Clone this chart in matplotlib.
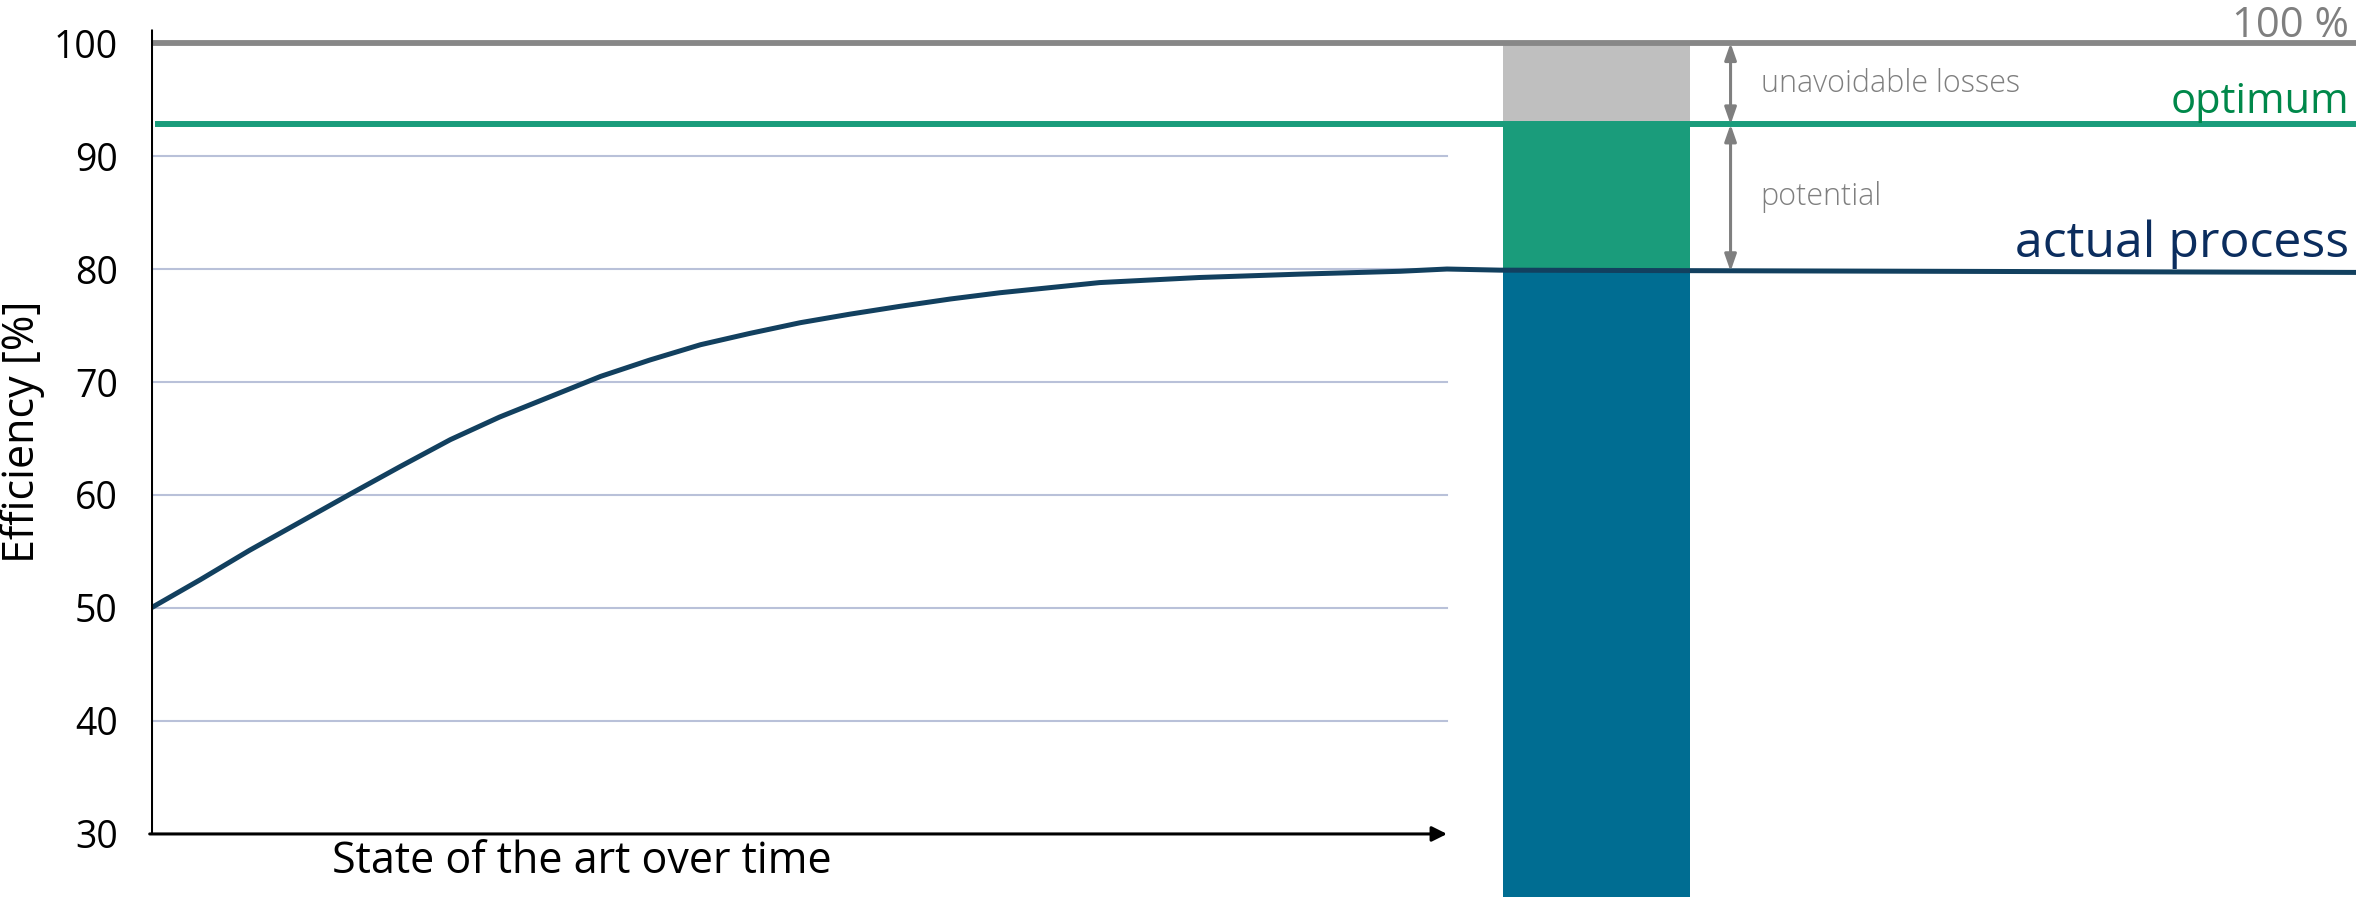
import numpy as np
import matplotlib.pyplot as plt

plt.rcParams['font.family'] = ['Open Sans', 'DejaVu Sans']

# efficiency curve of the actual process (x: state of the art over time, 0..1 = plotted period)
time_pos = [0.0, 0.038, 0.076, 0.115, 0.154, 0.192, 0.231, 0.269, 0.308, 0.347, 0.385,
            0.424, 0.462, 0.501, 0.539, 0.578, 0.617, 0.655, 0.732, 0.809, 0.887, 0.964,
            1.0, 1.041, 1.70]
efficiency = [50.0, 52.5, 55.1, 57.6, 60.1, 62.5, 64.9, 66.9, 68.7, 70.5, 71.95,
              73.3, 74.3, 75.25, 76.0, 76.7, 77.35, 77.9, 78.8, 79.25, 79.55, 79.8,
              80.0, 79.9, 79.7]

theoretical = 100.0
optimum = 92.8
actual = 79.8

yticks = [30, 40, 50, 60, 70, 80, 90, 100]
grid_levels = [40, 50, 60, 70, 80, 90]

c_grey_line = '#878787'
c_green = '#1a9c7b'
c_curve = '#12405f'
c_bar_grey = '#bfbfbf'
c_bar_blue = '#006d92'
c_grid = '#b9c1d9'
c_text_grey = '#7f7f7f'

fig = plt.figure(figsize=(23.56, 8.97), dpi=100)
ax = fig.add_axes([151 / 2356, 0, 1 - 151 / 2356, 1])
ax.set_xlim(0, 1.7014)
ax.set_ylim(24.42, 103.81)
for s in ax.spines.values():
    s.set_visible(False)
ax.set_xticks([])
ax.set_yticks(yticks)
ax.tick_params(axis='y', length=0, pad=24, labelsize=27)

# light grid over the time span only
for g in grid_levels:
    ax.plot([0, 1.0], [g, g], color=c_grid, lw=1.5, zorder=1)

# stacked bar: actual / potential / unavoidable losses
bx, bw = 1.043, 0.1445
ax.bar(bx, actual - 24.42, bottom=24.42, width=bw, align='edge', color=c_bar_blue, zorder=2)
ax.bar(bx, optimum - actual, bottom=actual, width=bw, align='edge', color=c_green, zorder=2)
ax.bar(bx, theoretical - optimum, bottom=optimum, width=bw, align='edge', color=c_bar_grey, zorder=2)

# reference levels
ax.plot([0, 1.7014], [theoretical, theoretical], color=c_grey_line, lw=4.2, zorder=3, solid_capstyle='butt')
ax.plot([0.003, 1.7014], [optimum, optimum], color=c_green, lw=4.3, zorder=3, solid_capstyle='butt')
ax.plot(time_pos, efficiency, color=c_curve, lw=3.6, zorder=4)

# axes
ax.plot([0, 0], [30, 101.2], color='black', lw=2.2, zorder=5, solid_capstyle='butt')
ax.annotate('', xy=(1.0, 30), xytext=(-0.001, 30),
            arrowprops=dict(arrowstyle='-|>,head_length=0.9,head_width=0.45', color='black', lw=2.2,
                            shrinkA=0, shrinkB=0), zorder=5)

# dimension arrows
ax_x = 1.2188
for y0, y1 in [(theoretical, optimum), (optimum, actual)]:
    ax.annotate('', xy=(ax_x, y1), xytext=(ax_x, y0),
                arrowprops=dict(arrowstyle='<|-|>,head_length=1.0,head_width=0.35', color=c_text_grey, lw=2.2,
                                shrinkA=0, shrinkB=0), zorder=5)

ax.text(1.2420, 95.7, 'unavoidable losses', color=c_text_grey, fontsize=22, fontweight='light', va='baseline')
ax.text(1.2420, 85.7, 'potential', color=c_text_grey, fontsize=22, fontweight='light', va='baseline')

xr = 1.6960
ax.text(xr, 100.55, '100 %', color=c_text_grey, fontsize=30, ha='right', va='baseline')
ax.text(xr, 93.8, 'optimum', color='#00884a', fontsize=30, ha='right', va='baseline')
ax.text(xr, 81.05, 'actual process', color='#0b2d5e', fontsize=36, ha='right', va='baseline')

ax.text(0.3326, 26.55, 'State of the art over time', fontsize=31, ha='center', va='baseline')
fig.text(23 / 2356, 1 - 432 / 897, 'Efficiency [%]', fontsize=31, rotation=90, ha='center', va='center')

fig.savefig('out.png', dpi=100)
